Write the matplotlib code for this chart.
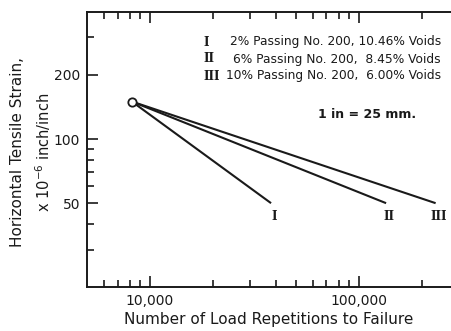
import matplotlib
matplotlib.use("Agg")
import matplotlib.pyplot as plt
from matplotlib.ticker import FixedLocator, NullFormatter, FixedFormatter

# Data
start_reps = 8200
start_strain = 150
series_names = ["I", "II", "III"]
end_reps = [38000, 135000, 233000]
end_strain = [50, 50, 50]
legend_lines = [
    ("I", "2% Passing No. 200, 10.46% Voids"),
    ("II", "6% Passing No. 200,  8.45% Voids"),
    ("III", "10% Passing No. 200,  6.00% Voids"),
]
x_major = [10000, 100000]
x_major_labels = ["10,000", "100,000"]
x_minor = [6000, 7000, 8000, 9000, 20000, 30000, 40000, 50000, 60000, 70000, 80000, 90000, 200000]
y_major = [50, 100, 200]
y_major_labels = ["50", "100", "200"]
y_minor = [30, 40, 60, 70, 80, 90, 300]

INK = '#1a1a1a'
plt.rcParams['font.family'] = ['DejaVu Sans']
fig = plt.figure(figsize=(4.51, 3.31), dpi=100)
ax = fig.add_axes([87/451, 1-287/331, 1-87/451, (287-12)/331])
ax.set_xscale('log')
ax.set_yscale('log')
ax.set_xlim(5000, 276000)
ax.set_ylim(20.2, 395)

for xe, ye, name in zip(end_reps, end_strain, series_names):
    ax.plot([start_reps, xe], [start_strain, ye], color=INK, lw=1.5, solid_capstyle='butt', zorder=2)
    ax.text(xe * 1.03, ye * 0.93, name, ha='center', va='top', fontsize=8.5,
            family='DejaVu Serif', fontweight='bold', color=INK)
ax.plot([start_reps], [start_strain], marker='o', ms=6, mfc='white', mec=INK, mew=1.3, zorder=3)

ax.xaxis.set_major_locator(FixedLocator(x_major))
ax.xaxis.set_major_formatter(FixedFormatter(x_major_labels))
ax.xaxis.set_minor_locator(FixedLocator(x_minor))
ax.xaxis.set_minor_formatter(NullFormatter())
ax.yaxis.set_major_locator(FixedLocator(y_major))
ax.yaxis.set_major_formatter(FixedFormatter(y_major_labels))
ax.yaxis.set_minor_locator(FixedLocator(y_minor))
ax.yaxis.set_minor_formatter(NullFormatter())

ax.tick_params(which='both', direction='in', top=True, bottom=True, left=True, right=False,
               color=INK, width=1.2)
ax.tick_params(which='major', length=8, labelsize=10, pad=5, colors=INK)
ax.tick_params(which='minor', length=5)
ax.spines['right'].set_visible(False)
for s in ['left', 'bottom', 'top']:
    ax.spines[s].set_linewidth(1.4)
    ax.spines[s].set_color(INK)

ax.set_xlabel("Number of Load Repetitions to Failure", fontsize=11, labelpad=3, color=INK)

fig.text(18/451, 1-152/331, "Horizontal Tensile Strain,", rotation=90, ha='center', va='center',
         fontsize=11, color=INK)
fig.text(43/451, 1-152/331, r"x 10$^{-6}$ inch/inch", rotation=90, ha='center', va='center',
         fontsize=10.5, color=INK)

ys = [42, 59, 76]
for (num, txt), yp in zip(legend_lines, ys):
    fig.text(203/451, 1-yp/331, num, ha='left', va='center', fontsize=8.5,
             family='DejaVu Serif', fontweight='bold', color=INK)
    fig.text(441/451, 1-yp/331, txt, ha='right', va='center', fontsize=8.8, color=INK)

fig.text(367/451, 1-115/331, "1 in = 25 mm.", ha='center', va='center', fontsize=9,
         fontweight='bold', color=INK)

fig.savefig("out.png", dpi=100)
